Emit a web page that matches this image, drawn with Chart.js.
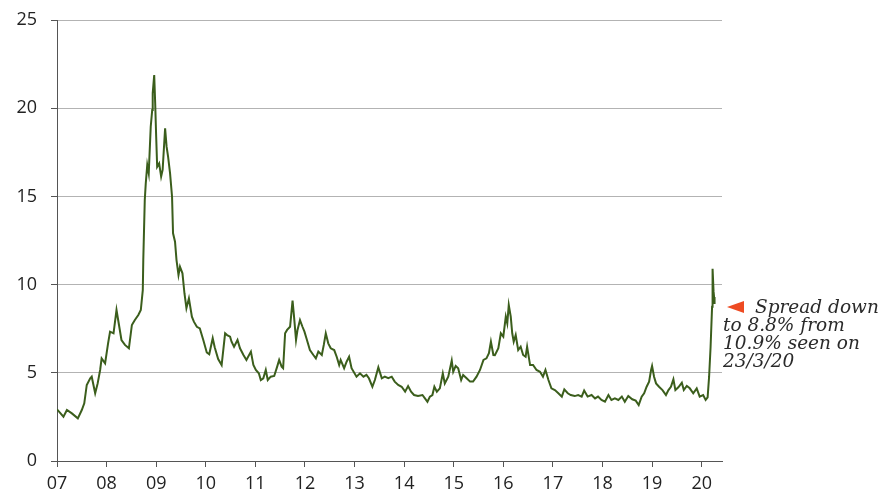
<!DOCTYPE html>
<html>
<head>
    <title>Spread</title>
    <style>
        body {
            margin: 0;
            padding: 0;
            background-color: #ffffff;
        }

        #chart-box {
            width: 895px;
            height: 497px;
        }
    </style>
    <script src="https://cdn.jsdelivr.net/npm/chart.js"></script>
</head>
<body>
    <div id="chart-box">
        <canvas id="spread-chart"></canvas>
    </div>

<script>
    // Dates as decimal years, spread in %
    var years = [
        2007.00, 2007.13, 2007.20, 2007.30, 2007.42, 2007.50, 2007.55, 2007.60, 2007.67, 2007.70,
        2007.77, 2007.82, 2007.87, 2007.90, 2007.97, 2008.03, 2008.07, 2008.14, 2008.20, 2008.25,
        2008.30, 2008.37, 2008.45, 2008.51, 2008.57, 2008.64, 2008.69, 2008.73, 2008.74, 2008.77,
        2008.79, 2008.82, 2008.85, 2008.89, 2008.92, 2008.93, 2008.96, 2008.98, 2009.00, 2009.02,
        2009.06, 2009.10, 2009.13, 2009.18, 2009.21, 2009.24, 2009.28, 2009.32, 2009.34, 2009.38,
        2009.41, 2009.45, 2009.48, 2009.53, 2009.57, 2009.61, 2009.66, 2009.72, 2009.76, 2009.82,
        2009.88, 2009.95, 2010.02, 2010.07, 2010.14, 2010.18, 2010.25, 2010.32, 2010.39, 2010.43,
        2010.49, 2010.52, 2010.57, 2010.64, 2010.69, 2010.76, 2010.82, 2010.91, 2010.96, 2011.01,
        2011.07, 2011.11, 2011.16, 2011.21, 2011.25, 2011.31, 2011.38, 2011.44, 2011.48, 2011.53,
        2011.56, 2011.60, 2011.64, 2011.70, 2011.75, 2011.78, 2011.82, 2011.85, 2011.90, 2011.95,
        2011.99, 2012.03, 2012.10, 2012.17, 2012.22, 2012.27, 2012.34, 2012.38, 2012.42, 2012.47,
        2012.52, 2012.59, 2012.64, 2012.69, 2012.72, 2012.79, 2012.84, 2012.89, 2012.94, 2013.04,
        2013.11, 2013.18, 2013.24, 2013.29, 2013.36, 2013.41, 2013.48, 2013.55, 2013.61, 2013.68,
        2013.75, 2013.81, 2013.88, 2013.95, 2014.02, 2014.08, 2014.14, 2014.20, 2014.28, 2014.37,
        2014.42, 2014.47, 2014.52, 2014.57, 2014.61, 2014.66, 2014.72, 2014.78, 2014.82, 2014.89,
        2014.96, 2014.99, 2015.04, 2015.09, 2015.15, 2015.19, 2015.26, 2015.33, 2015.39, 2015.46,
        2015.53, 2015.60, 2015.66, 2015.71, 2015.75, 2015.80, 2015.83, 2015.90, 2015.95, 2016.00,
        2016.05, 2016.08, 2016.11, 2016.15, 2016.18, 2016.21, 2016.25, 2016.30, 2016.35, 2016.40,
        2016.45, 2016.48, 2016.54, 2016.60, 2016.67, 2016.74, 2016.80, 2016.85, 2016.91, 2016.97,
        2017.04, 2017.11, 2017.18, 2017.23, 2017.30, 2017.36, 2017.44, 2017.51, 2017.58, 2017.63,
        2017.70, 2017.78, 2017.85, 2017.91, 2017.98, 2018.05, 2018.12, 2018.18, 2018.25, 2018.32,
        2018.39, 2018.45, 2018.52, 2018.60, 2018.67, 2018.73, 2018.79, 2018.84, 2018.89, 2018.94,
        2018.98, 2019.00, 2019.04, 2019.08, 2019.14, 2019.21, 2019.28, 2019.33, 2019.38, 2019.43,
        2019.47, 2019.53, 2019.60, 2019.64, 2019.70, 2019.76, 2019.83, 2019.90, 2019.96, 2020.03,
        2020.08, 2020.12, 2020.15, 2020.18, 2020.21, 2020.22, 2020.24, 2020.25, 2020.26
    ];

    var spread = [
        2.93, 2.51, 2.89, 2.70, 2.42, 2.89, 3.27, 4.31, 4.69, 4.78,
        3.84, 4.40, 5.16, 5.82, 5.54, 6.67, 7.33, 7.24, 8.56, 7.71,
        6.86, 6.58, 6.39, 7.71, 7.99, 8.28, 8.56, 9.69, 11.39, 14.80,
        15.74, 16.78, 16.31, 18.95, 19.90, 20.84, 21.88, 20.28, 18.38, 16.68,
        16.87, 16.12, 16.50, 18.86, 17.82, 17.25, 16.31, 14.98, 12.91, 12.43,
        11.39, 10.54, 11.01, 10.64, 9.51, 8.66, 9.22, 8.18, 7.90, 7.61,
        7.52, 6.86, 6.15, 6.05, 6.96, 6.45, 5.78, 5.44, 7.24, 7.14,
        7.05, 6.76, 6.48, 6.86, 6.39, 6.01, 5.73, 6.20, 5.44, 5.16,
        4.97, 4.59, 4.69, 5.16, 4.59, 4.78, 4.82, 5.35, 5.73, 5.35,
        5.26, 7.24, 7.43, 7.61, 9.09, 8.18, 6.86, 7.43, 7.99, 7.61,
        7.33, 6.96, 6.29, 6.01, 5.82, 6.20, 6.01, 6.58, 7.24, 6.67,
        6.39, 6.29, 5.91, 5.44, 5.73, 5.26, 5.63, 5.91, 5.26, 4.78,
        4.97, 4.78, 4.88, 4.69, 4.21, 4.59, 5.31, 4.69, 4.78, 4.69,
        4.78, 4.50, 4.31, 4.21, 3.93, 4.25, 3.93, 3.74, 3.68, 3.74,
        3.55, 3.36, 3.65, 3.74, 4.21, 3.93, 4.12, 4.97, 4.40, 4.78,
        5.69, 5.06, 5.39, 5.26, 4.59, 4.88, 4.69, 4.50, 4.50, 4.78,
        5.16, 5.73, 5.82, 6.11, 6.76, 6.01, 6.00, 6.39, 7.24, 7.05,
        8.18, 7.80, 8.84, 8.18, 7.24, 6.76, 7.14, 6.29, 6.48, 6.01,
        5.91, 6.48, 5.44, 5.44, 5.16, 5.06, 4.78, 5.16, 4.59, 4.12,
        4.02, 3.84, 3.65, 4.06, 3.84, 3.74, 3.68, 3.74, 3.65, 3.99,
        3.65, 3.74, 3.55, 3.65, 3.46, 3.36, 3.74, 3.46, 3.55, 3.46,
        3.65, 3.36, 3.68, 3.50, 3.42, 3.17, 3.65, 3.84, 4.21, 4.50,
        5.16, 5.39, 4.78, 4.40, 4.21, 4.02, 3.74, 4.02, 4.21, 4.63,
        4.02, 4.18, 4.44, 4.02, 4.25, 4.12, 3.84, 4.12, 3.65, 3.74,
        3.46, 3.61, 4.78, 6.48, 8.75, 10.90, 9.60, 9.30, 8.90
    ];

    var yearTicks = [2007, 2008, 2009, 2010, 2011, 2012, 2013, 2014, 2015, 2016, 2017, 2018, 2019, 2020];
    var valueTicks = [0, 5, 10, 15, 20, 25];

    var noteLines = ['Spread down', 'to 8.8% from', '10.9% seen on', '23/3/20'];

    var points = [];
    for (var i = 0; i < years.length; i++) {
        points.push({ x: years[i], y: spread[i] });
    }

    // Red marker and note to the right of the last value
    var notePlugin = {
        id: 'note',
        afterDraw: function(chart) {
            var ctx = chart.ctx;
            var area = chart.chartArea;
            var x0 = area.right + 5;
            var y0 = 307;
            ctx.save();
            ctx.fillStyle = '#ee4b22';
            ctx.beginPath();
            ctx.moveTo(x0, y0);
            ctx.lineTo(x0 + 17, y0 - 6);
            ctx.lineTo(x0 + 17, y0 + 6);
            ctx.closePath();
            ctx.fill();

            ctx.fillStyle = '#2a2a2a';
            ctx.font = 'italic 18.5px "DejaVu Serif"';
            ctx.textBaseline = 'alphabetic';
            ctx.fillText(noteLines[0], area.right + 33, 313);
            for (var k = 1; k < noteLines.length; k++) {
                ctx.fillText(noteLines[k], area.right + 1, 313 + k * 18);
            }
            ctx.restore();
        }
    };

    var ctx = document.getElementById('spread-chart').getContext('2d');
    var myChart = new Chart(ctx, {
        type: 'line',
        data: {
            datasets: [{
                data: points,
                borderColor: '#3b5e1c',
                borderWidth: 2,
                pointRadius: 0,
                tension: 0,
                fill: false
            }]
        },
        options: {
            responsive: true,
            maintainAspectRatio: false,
            animation: false,
            layout: {
                padding: { top: 20, right: 173, left: 0, bottom: 0 }
            },
            plugins: {
                legend: { display: false },
                tooltip: { enabled: false }
            },
            scales: {
                x: {
                    type: 'linear',
                    min: 2007,
                    max: 2020.41,
                    afterBuildTicks: function(axis) {
                        axis.ticks = yearTicks.map(function(v) { return { value: v }; });
                    },
                    afterFit: function(axis) {
                        axis.height = 36;
                        axis.paddingLeft = 0;
                        axis.paddingRight = 0;
                    },
                    ticks: {
                        autoSkip: false,
                        maxRotation: 0,
                        padding: 6,
                        color: '#222222',
                        font: { family: '"Open Sans"', size: 18 },
                        callback: function(value) {
                            return String(value).slice(2);
                        }
                    },
                    grid: {
                        drawOnChartArea: false,
                        drawTicks: true,
                        tickLength: 6,
                        tickColor: '#555555'
                    },
                    border: { display: true, color: '#555555', width: 1 }
                },
                y: {
                    min: 0,
                    max: 25,
                    afterBuildTicks: function(axis) {
                        axis.ticks = valueTicks.map(function(v) { return { value: v }; });
                    },
                    afterFit: function(axis) {
                        axis.width = 57;
                        axis.paddingTop = 0;
                        axis.paddingBottom = 0;
                    },
                    ticks: {
                        padding: 14,
                        color: '#222222',
                        font: { family: '"Open Sans"', size: 18 }
                    },
                    grid: {
                        color: '#b3b3b3',
                        lineWidth: 1,
                        drawTicks: true,
                        tickLength: 6,
                        tickColor: '#555555'
                    },
                    border: { display: true, color: '#555555', width: 1 }
                }
            }
        },
        plugins: [notePlugin]
    });
</script>

</body>
</html>
